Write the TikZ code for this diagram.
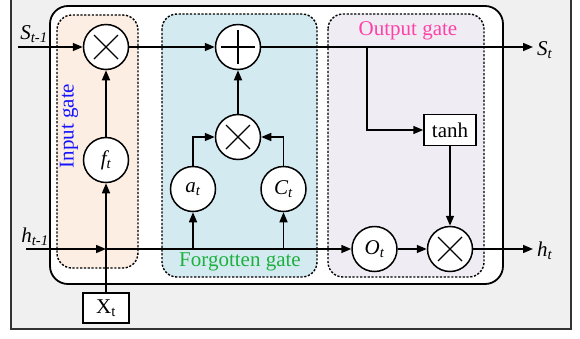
\documentclass[tikz,border=0pt]{standalone}
\usepackage{fontspec}
\setmainfont{Liberation Serif}
\usetikzlibrary{arrows.meta}
\definecolor{bggray}{HTML}{F0F0F0}
\definecolor{inorange}{HTML}{FCEEE3}
\definecolor{fgblue}{HTML}{D3EAF0}
\definecolor{outlav}{HTML}{EFEDF3}
\definecolor{pinktxt}{HTML}{FF40A8}
\definecolor{greentxt}{HTML}{1DB03F}
\definecolor{bluetxt}{HTML}{1414FF}
\tikzset{
  txt/.style={font=\fontsize{21}{25}\selectfont, inner sep=0pt},
  gatebox/.style={line width=1.4pt, dash pattern=on 2.2pt off 1.6pt, rounded corners=15pt},
  opnode/.style={circle, draw, line width=1.5pt, minimum size=45pt, inner sep=0pt, fill=white, font=\fontsize{21}{25}\selectfont},
  mult/.style={opnode, path picture={
      \draw[line width=1.3pt] ([shift={(-12pt,-12pt)}]path picture bounding box.center) -- ([shift={(12pt,12pt)}]path picture bounding box.center);
      \draw[line width=1.3pt] ([shift={(-12pt,12pt)}]path picture bounding box.center) -- ([shift={(12pt,-12pt)}]path picture bounding box.center);}},
  plusop/.style={opnode, path picture={
      \draw[line width=1.3pt] ([shift={(-17pt,0pt)}]path picture bounding box.center) -- ([shift={(17pt,0pt)}]path picture bounding box.center);
      \draw[line width=1.3pt] ([shift={(0pt,-17pt)}]path picture bounding box.center) -- ([shift={(0pt,17pt)}]path picture bounding box.center);}},
  sqbox/.style={draw, line width=1.5pt, fill=white, font=\fontsize{21}{25}\selectfont, inner sep=0pt},
  arr/.style={line width=1.5pt, -{Triangle[length=10pt,width=8pt]}},
  ln/.style={line width=1.5pt}
}
\begin{document}
\begin{tikzpicture}[x=1pt,y=-1pt]
\useasboundingbox (0,0) rectangle (580,338);
\begin{scope}
\clip (0,0) rectangle (580,338);
\draw[fill=bggray, draw=black!80, line width=1.2pt] (11,-5) rectangle (571,329);
\end{scope}
\draw[line width=1.8pt, rounded corners=18pt, fill=white] (50,6) rectangle (503,284);
\draw[gatebox, fill=inorange] (57,15) rectangle (138,268);
\draw[gatebox, fill=fgblue] (162,14) rectangle (317,277);
\draw[gatebox, fill=outlav] (328,14) rectangle (484,277);

\node[txt, text=bluetxt, rotate=90] (lin) at (69,126) {Input gate};
\node[txt, text=greentxt] (lfg) at (240,262) {Forgotten gate};
\node[txt, text=pinktxt] (lout) at (408,31) {Output gate};

\node[mult] (mulIn) at (106,47) {};
\node[plusop] (add) at (238,47) {};
\node[mult] (mulF) at (238,137) {};
\node[opnode] (ft) at (106,160) {\itshape f\textsubscript{t}};
\node[opnode] (at) at (193,189) {\itshape a\textsubscript{t}};
\node[opnode] (Ct) at (283.5,189) {\itshape C\textsubscript{t}};
\node[opnode] (Ot) at (374.5,249) {\itshape O\textsubscript{t}};
\node[mult] (mulOut) at (450,249) {};
\node[sqbox, minimum width=52pt, minimum height=31pt] (tanh) at (450,130) {tanh};
\node[sqbox, minimum width=46pt, minimum height=30pt] (Xt) at (106,308) {X\textsubscript{t}};

\coordinate (sin) at (18,47);
\coordinate (sout) at (533,47);
\coordinate (br) at (367,47);
\coordinate (hin) at (26,249);
\coordinate (hx) at (106,249);
\coordinate (ha) at (193,249);
\coordinate (hc) at (283.5,249);
\coordinate (hout) at (533,249);

\node[txt] (lsin) at (34,34) {\itshape S\textsubscript{t-1}};
\node[txt] (lhin) at (35,237) {\itshape h\textsubscript{t-1}};
\node[txt, anchor=west] (lsout) at (537,50) {\itshape S\textsubscript{t}};
\node[txt, anchor=west] (lhout) at (537,251) {\itshape h\textsubscript{t}};

\draw[arr] (sin) -- (mulIn);
\draw[arr] (mulIn) -- (add);
\draw[arr] (add) -- (sout);
\draw[arr] (br) |- (tanh.west);
\draw[arr] (tanh.south) -- (mulOut.north);
\draw[ln] (Xt.north) -- (hx);
\draw[arr] (hin) -- (hx);
\draw[arr] (hx) -- (Ot);
\draw[arr] (hx) -- (ft);
\draw[arr] (ft) -- (mulIn);
\draw[arr] (ha) -- (at);
\draw[arr] (hc) -- (Ct);
\draw[arr] (at.north) |- (mulF.west);
\draw[arr] (Ct.north) |- (mulF.east);
\draw[arr] (mulF) -- (add);
\draw[arr] (Ot) -- (mulOut);
\draw[arr] (mulOut) -- (hout);
\end{tikzpicture}
\end{document}
